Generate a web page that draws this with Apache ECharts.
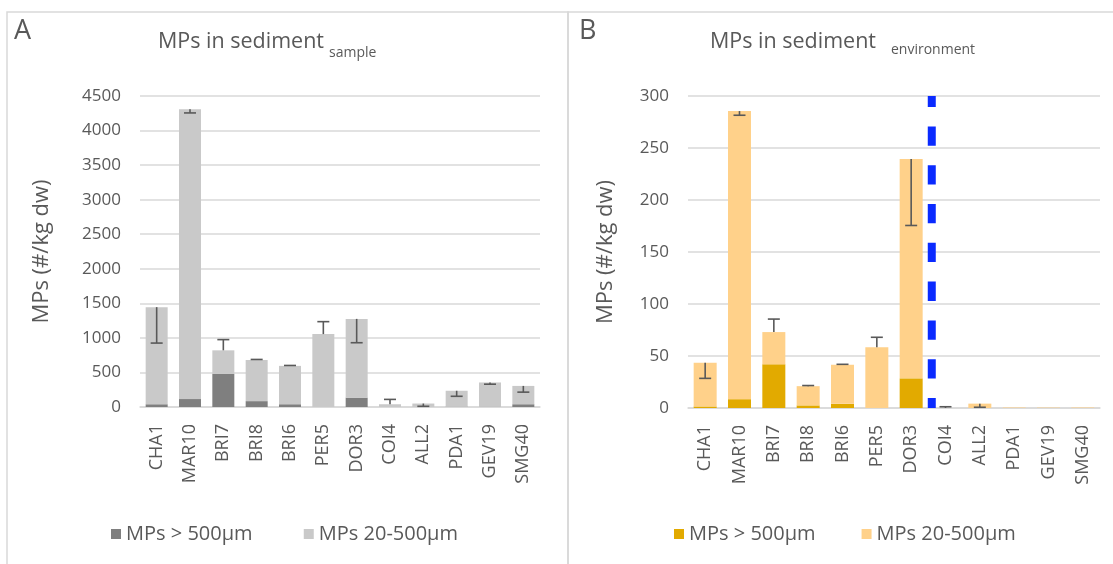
<!DOCTYPE html>
<html>
<head>
<meta charset="utf-8">
<script src="https://cdn.jsdelivr.net/npm/echarts@6/dist/echarts.min.js"></script>
<style>html,body{margin:0;padding:0;background:#fff}#c{width:1113px;height:564px}</style>
</head>
<body>
<div id="c"></div>
<script>
const categories = ['CHA1','MAR10','BRI7','BRI8','BRI6','PER5','DOR3','COI4','ALL2','PDA1','GEV19','SMG40'];
// Panel A (per sample)
const aLarge = [40, 115, 480, 85, 40, 0, 135, 0, 0, 5, 5, 40];
const aSmall = [1405, 4195, 340, 595, 555, 1055, 1140, 40, 50, 230, 350, 265];
const aErr   = [-520, -55, 155, 8, 6, 180, -345, 70, -40, -80, -25, -90];
// Panel B (per environment)
const bLarge = [1.5, 8.5, 42, 2.5, 4, 0, 28.5, 0, 0, 0, 0, 0];
const bSmall = [42, 277, 31, 18.5, 37.5, 58.5, 211, 0, 4.2, 0.5, 0.4, 0.5];
const bErr   = [-15, -4, 12.5, 0.6, 0.5, 9.5, -64, 1.2, -3.5, 0, 0, 0];
const aTicks = {min: 0, max: 4500, interval: 500};
const bTicks = {min: 0, max: 300, interval: 50};
const separatorX = 6.6; // position of the dashed divider (between DOR3 and COI4)
const legendNames = ['MPs > 500µm', 'MPs 20-500µm'];

const FONT = 'Open Sans';
const TXT = '#595959';
const GRID = '#d9d9d9';

function totals(l, s){ return l.map((v,i)=>v+s[i]); }
function errData(l, s, e){ const t = totals(l,s); return t.map((v,i)=>[i, v, v+e[i]]); }

function errRender(params, api){
  if (api.value(1) === api.value(2)) return null;
  const p0 = api.coord([api.value(0), api.value(1)]);
  const p1 = api.coord([api.value(0), api.value(2)]);
  const st = {stroke:'#595959', lineWidth:1.6};
  return {type:'group', children:[
    {type:'line', shape:{x1:p0[0], y1:p0[1], x2:p1[0], y2:p1[1]}, style:st},
    {type:'line', shape:{x1:p1[0]-6, y1:p1[1], x2:p1[0]+6, y2:p1[1]}, style:st}
  ]};
}

function xAxisCfg(gi){
  return {type:'category', gridIndex:gi, data:categories,
    axisLine:{lineStyle:{color:GRID, width:1.5}}, axisTick:{show:false},
    axisLabel:{rotate:90, color:TXT, fontFamily:FONT, fontSize:18, margin:17}};
}
function yAxisCfg(gi, t, gap){
  return {type:'value', gridIndex:gi, min:t.min, max:t.max, interval:t.interval,
    name:'MPs (#/kg dw)', nameLocation:'middle', nameGap:gap,
    nameTextStyle:{color:TXT, fontFamily:FONT, fontSize:22},
    axisLine:{show:false}, axisTick:{show:false},
    axisLabel:{color:TXT, fontFamily:FONT, fontSize:17, margin:19, formatter:(v)=>String(v)},
    splitLine:{lineStyle:{color:GRID, width:1.5}}};
}

const chart = echarts.init(document.getElementById('c'), null, {renderer:'canvas'});
chart.setOption({
  animation:false,
  textStyle:{fontFamily:FONT},
  graphic:[
    {type:'rect', shape:{x:7, y:12, width:561, height:600}, style:{fill:'none', stroke:GRID, lineWidth:1.5}, z:-10},
    {type:'rect', shape:{x:568, y:12, width:600, height:600}, style:{fill:'none', stroke:GRID, lineWidth:1.5}, z:-10},
    {type:'text', left:14, top:18, style:{text:'A', font:'27px "Open Sans"', fill:TXT}},
    {type:'text', left:579, top:18, style:{text:'B', font:'27px "Open Sans"', fill:TXT}},
    {type:'text', left:158, top:31, style:{text:'MPs in sediment', font:'21.5px "Open Sans"', fill:TXT}},
    {type:'text', left:329, top:46, style:{text:'sample', font:'14px "Open Sans"', fill:TXT}},
    {type:'text', left:710, top:31, style:{text:'MPs in sediment', font:'21.5px "Open Sans"', fill:TXT}},
    {type:'text', left:891, top:43, style:{text:'environment', font:'14px "Open Sans"', fill:TXT}}
  ],
  grid:[
    {left:140, right:573, top:96, bottom:157},
    {left:688, right:13, top:96, bottom:156}
  ],
  legend:[
    {left:106, top:519, itemWidth:10, itemHeight:10, itemGap:46, icon:'rect',
     textStyle:{color:TXT, fontFamily:FONT, fontSize:20}, data:[legendNames[0]+' ', legendNames[1]+' ']},
    {left:669, top:519, itemWidth:10, itemHeight:10, itemGap:46, icon:'rect',
     textStyle:{color:TXT, fontFamily:FONT, fontSize:20}, data:legendNames}
  ],
  xAxis:[xAxisCfg(0), xAxisCfg(1),
    {type:'value', gridIndex:1, min:-0.5, max:11.5, show:false}],
  yAxis:[yAxisCfg(0, aTicks, 87), yAxisCfg(1, bTicks, 71)],
  series:[
    {name:legendNames[0]+' ', type:'bar', stack:'a', xAxisIndex:0, yAxisIndex:0, data:aLarge, barWidth:'66%', itemStyle:{color:'#7f7f7f'}},
    {name:legendNames[1]+' ', type:'bar', stack:'a', xAxisIndex:0, yAxisIndex:0, data:aSmall, barWidth:'66%', itemStyle:{color:'#c9c9c9'}},
    {type:'custom', xAxisIndex:0, yAxisIndex:0, data:errData(aLarge,aSmall,aErr), renderItem:errRender, z:5},
    {name:legendNames[0], type:'bar', stack:'b', xAxisIndex:1, yAxisIndex:1, data:bLarge, barWidth:'67%', itemStyle:{color:'#e2aa00'}},
    {name:legendNames[1], type:'bar', stack:'b', xAxisIndex:1, yAxisIndex:1, data:bSmall, barWidth:'67%', itemStyle:{color:'#ffd18a'}},
    {type:'custom', xAxisIndex:1, yAxisIndex:1, data:errData(bLarge,bSmall,bErr), renderItem:errRender, z:5},
    {type:'line', xAxisIndex:2, yAxisIndex:1, symbol:'none', silent:true, z:6,
     data:[[separatorX, bTicks.min],[separatorX, bTicks.max]],
     lineStyle:{color:'#0a2aff', width:8, type:[19.3,19.5], dashOffset:9.3, cap:'butt'}}
  ]
});
</script>
</body>
</html>
